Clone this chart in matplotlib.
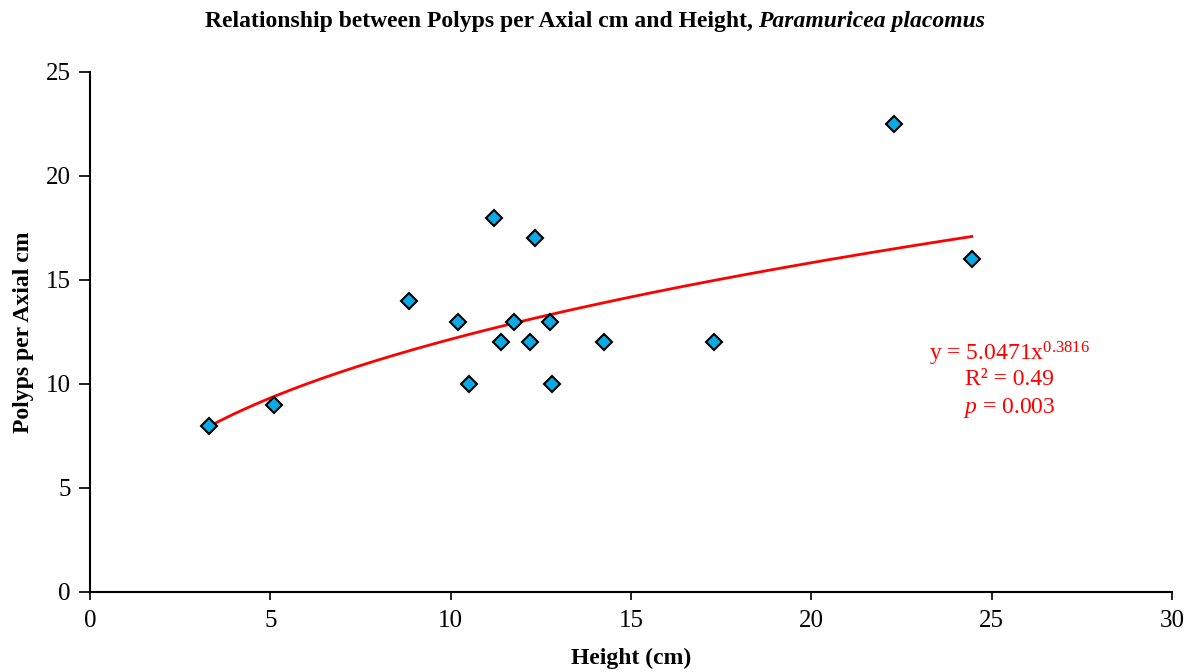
import numpy as np
import matplotlib
matplotlib.use("Agg")
import matplotlib.pyplot as plt

height_cm = [3.3, 5.1, 8.85, 10.2, 10.5, 11.2, 11.4, 11.75, 12.2, 12.35, 12.75, 12.8, 14.25, 17.3, 22.3, 24.45]
polyps = [8, 9, 14, 13, 10, 18, 12, 13, 12, 17, 13, 10, 12, 12, 22.5, 16]
fit_a = 5.0471
fit_b = 0.3816
x_ticks = [0, 5, 10, 15, 20, 25, 30]
y_ticks = [0, 5, 10, 15, 20, 25]

plt.rcParams['font.family'] = ['Liberation Serif', 'DejaVu Serif']
plt.rcParams['mathtext.fontset'] = 'custom'
plt.rcParams['mathtext.rm'] = 'Liberation Serif'
plt.rcParams['mathtext.it'] = 'Liberation Serif:italic'
plt.rcParams['mathtext.bf'] = 'Liberation Serif:bold'

fig = plt.figure(figsize=(11.9, 6.72), dpi=100)
ax = fig.add_axes([90/1190, 80/672, (1172-90)/1190, (592-72)/672])

xf = np.linspace(min(height_cm), max(height_cm), 200)
ax.plot(xf, fit_a * xf ** fit_b, color='#FF0000', lw=2, zorder=2)
ax.plot(height_cm, polyps, linestyle='none', marker='D', ms=8.5,
        mfc='#0AAAE6', mec='black', mew=1.5, zorder=3)

ax.set_xlim(0, 30)
ax.set_ylim(0, 25)
ax.set_xticks(x_ticks)
ax.set_yticks(y_ticks)
ax.tick_params(labelsize=18, direction='out', width=1.2)
ax.tick_params(axis='y', length=8, pad=6)
ax.tick_params(axis='x', length=6, pad=7)
for s in ['top', 'right']:
    ax.spines[s].set_visible(False)
for s in ['left', 'bottom']:
    ax.spines[s].set_linewidth(1.5)

ax.set_xlabel('Height (cm)', fontsize=17, fontweight='bold', labelpad=11)
ax.set_ylabel('Polyps per Axial cm', fontsize=17, fontweight='bold', labelpad=8)

t1 = fig.text(0.5, 1 - 22/672, 'Relationship between Polyps per Axial cm and Height, ',
              ha='right', va='center', fontsize=17, fontweight='bold')
fig.canvas.draw()
bb = t1.get_window_extent()
t2 = fig.text(0.5, 1 - 22/672, 'Paramuricea placomus',
              ha='left', va='center', fontsize=17, fontweight='bold', fontstyle='italic')
bb2 = t2.get_window_extent()
total = bb.width + bb2.width
shift = (total / 2 - bb.width) / 1190
t1.set_x(0.5 - shift)
t2.set_x(0.5 - shift)

tx = 25.5
ax.text(tx, 11.45, 'y = 5.0471x$^{0.3816}$', color='#FF0000', fontsize=17, ha='center', va='center')
ax.text(tx, 10.2, 'R² = 0.49', color='#FF0000', fontsize=17, ha='center', va='center')
ax.text(tx, 8.85, '$\\mathit{p}$ = 0.003', color='#FF0000', fontsize=17, ha='center', va='center')

fig.savefig('out.png', dpi=100)
